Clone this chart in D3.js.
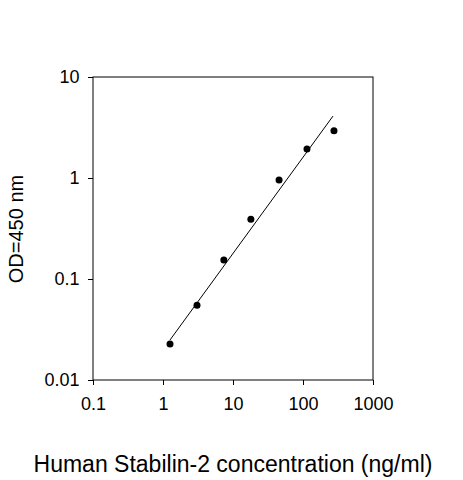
<!DOCTYPE html>
<html><head><meta charset="utf-8">
<script src="https://cdn.jsdelivr.net/npm/d3@7"></script>
<style>body{margin:0;background:#fff}text{font-family:"Liberation Sans",Arial,sans-serif}</style>
</head><body><svg id="c" width="463" height="480"></svg>
<script>
const xVals=[1.26,3.06,7.4,18,45.5,114,277];
const yVals=[0.0227,0.055,0.154,0.39,0.955,1.94,2.93];
const fitX=[1.26,268];
const fitY=[0.0249,4.1];
const xTicks=[0.1,1,10,100,1000];
const yTicks=[0.01,0.1,1,10];
const xTickLabels=["0.1","1","10","100","1000"];
const yTickLabels=["0.01","0.1","1","10"];
const svg=d3.select("#c");
const L=93,R=373,T=77,B=380;
const x=d3.scaleLog().domain([0.1,1000]).range([L,R]);
const y=d3.scaleLog().domain([0.01,10]).range([B,T]);
svg.append("rect").attr("x",L).attr("y",T).attr("width",R-L).attr("height",B-T).attr("fill","none").attr("stroke","#000");
const xa=svg.append("g").attr("transform",`translate(0,${B})`).call(d3.axisBottom(x).tickValues(xTicks).tickFormat((d,i)=>xTickLabels[i]).tickSize(5).tickSizeOuter(0));
const ya=svg.append("g").attr("transform",`translate(${L},0)`).call(d3.axisLeft(y).tickValues(yTicks).tickFormat((d,i)=>yTickLabels[i]).tickSize(5).tickSizeOuter(0));
[xa,ya].forEach(a=>{a.select(".domain").remove();a.selectAll("text").attr("font-size",18).attr("font-family","Liberation Sans, Arial").attr("fill","#000");});
xa.selectAll("text").attr("dy","1.2em");
ya.selectAll("text").attr("dx","-0.3em");
svg.append("line").attr("x1",x(fitX[0])).attr("y1",y(fitY[0])).attr("x2",x(fitX[1])).attr("y2",y(fitY[1])).attr("stroke","#000").attr("stroke-width",1);
svg.selectAll("circle.p").data(xVals).enter().append("circle").attr("class","p").attr("cx",d=>x(d)).attr("cy",(d,i)=>y(yVals[i])).attr("r",3.5).attr("fill","#000");
svg.append("text").attr("x",233).attr("y",472).attr("text-anchor","middle").attr("font-size",23).text("Human Stabilin-2 concentration (ng/ml)");
svg.append("text").attr("transform","translate(23,229) rotate(-90)").attr("text-anchor","middle").attr("font-size",20).text("OD=450 nm");
</script></body></html>
